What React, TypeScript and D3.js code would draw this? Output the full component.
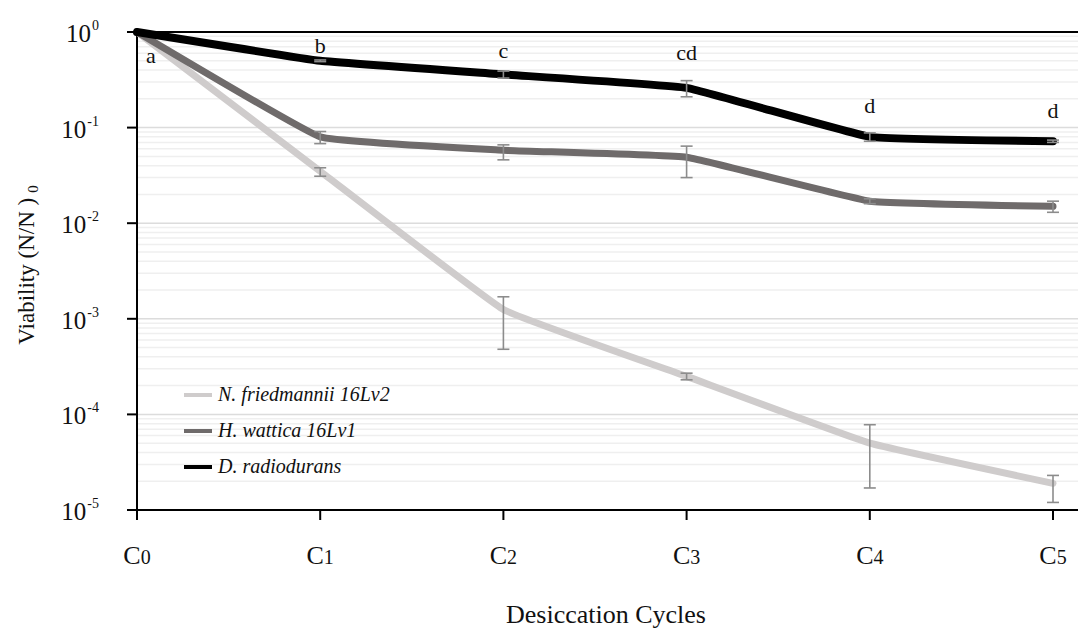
import React from "react";
import * as d3 from "d3";

const categories = ["C0", "C1", "C2", "C3", "C4", "C5"];
const seriesNames = ["N. friedmannii 16Lv2", "H. wattica 16Lv1", "D. radiodurans"];
const friedmannii = [1, 0.035, 0.00125, 0.00025, 0.00005, 0.000019];
const friedmanniiLo = [1, 0.031, 0.00048, 0.00023, 0.000017, 0.000012];
const friedmanniiHi = [1, 0.038, 0.0017, 0.00027, 0.000078, 0.000023];
const wattica = [1, 0.08, 0.058, 0.049, 0.017, 0.015];
const watticaLo = [1, 0.068, 0.046, 0.03, 0.016, 0.013];
const watticaHi = [1, 0.091, 0.066, 0.064, 0.018, 0.017];
const radiodurans = [1, 0.5, 0.36, 0.26, 0.08, 0.072];
const radioduransLo = [1, 0.49, 0.33, 0.21, 0.072, 0.07];
const radioduransHi = [1, 0.51, 0.39, 0.31, 0.088, 0.074];
const letters = ["a", "b", "c", "cd", "d", "d"];
const letterValues = [0.47, 0.6, 0.535, 0.51, 0.142, 0.126];
const yExponents = [0, -1, -2, -3, -4, -5];

const colors = ["#cfcccc", "#6f6b6b", "#000000"];

export default function App() {
  const W = 1078, H = 628;
  const left = 137, right = 1078, top = 32, bottom = 510;
  const x = d3.scalePoint<string>().domain(categories).range([left, 1053]);
  const y = d3.scaleLog().domain([1e-5, 1]).range([bottom, top]);

  const series = [
    { name: seriesNames[0], v: friedmannii, lo: friedmanniiLo, hi: friedmanniiHi, c: colors[0], w: 7 },
    { name: seriesNames[1], v: wattica, lo: watticaLo, hi: watticaHi, c: colors[1], w: 7 },
    { name: seriesNames[2], v: radiodurans, lo: radioduransLo, hi: radioduransHi, c: colors[2], w: 8 },
  ];

  const line = d3
    .line<number>()
    .x((_, i) => x(categories[i]) as number)
    .y((d) => y(d))
    .curve(d3.curveCardinal.tension(0.75));

  const minorTicks: number[] = [];
  for (let e = -5; e < 0; e++) {
    for (let m = 2; m <= 9; m++) minorTicks.push(m * Math.pow(10, e));
  }
  const majorTicks = yExponents.map((e) => Math.pow(10, e));

  return (
    <svg width={W} height={H} style={{ position: "absolute", left: 0, top: 0, background: "#fff" }}
      fontFamily="'Liberation Serif', 'Times New Roman', serif">
      {/* grid */}
      {minorTicks.map((t, i) => (
        <line key={"m" + i} x1={left} x2={right} y1={y(t)} y2={y(t)} stroke="#efefef" strokeWidth={1.5} />
      ))}
      {majorTicks.map((t, i) => (
        <line key={"M" + i} x1={left} x2={right} y1={y(t)} y2={y(t)} stroke="#dcdcdc" strokeWidth={1.5} />
      ))}
      {/* top border */}
      <line x1={127} x2={right} y1={top} y2={top} stroke="#000" strokeWidth={2} />
      {/* y axis */}
      <line x1={left} x2={left} y1={top} y2={bottom + 10} stroke="#000" strokeWidth={2} />
      {majorTicks.map((t, i) => (
        <line key={"yt" + i} x1={127} x2={left} y1={y(t)} y2={y(t)} stroke="#000" strokeWidth={2} />
      ))}
      {yExponents.map((e, i) => (
        <text key={"yl" + i} x={99} y={y(Math.pow(10, e)) + 10} textAnchor="end" fontSize={25} fill="#111">
          10
          <tspan fontSize={14} dy={-12} dx={1}>{e}</tspan>
        </text>
      ))}
      {/* x axis */}
      <line x1={127} x2={right} y1={bottom} y2={bottom} stroke="#000" strokeWidth={2} />
      {categories.map((c, i) => (
        <g key={"xt" + i}>
          <line x1={x(c)} x2={x(c)} y1={bottom} y2={bottom + 10} stroke="#000" strokeWidth={2} />
          <text x={x(c)} y={564} textAnchor="middle" fontSize={26} fill="#111">
            {c[0]}
            <tspan fontSize={20}>{c.slice(1)}</tspan>
          </text>
        </g>
      ))}
      <text x={606} y={623} textAnchor="middle" fontSize={26} fill="#111">Desiccation Cycles</text>
      <text transform={`translate(34,265) rotate(-90)`} textAnchor="middle" fontSize={23} fill="#111">
        Viability (N/N )
        <tspan fontSize={15} dx={5} dy={4}>0</tspan>
      </text>
      {/* lines */}
      {series.map((s, si) => (
        <path key={"l" + si} d={line(s.v) || ""} fill="none" stroke={s.c} strokeWidth={s.w}
          strokeLinecap="round" strokeLinejoin="round" />
      ))}
      {/* error bars */}
      {series.map((s, si) =>
        s.v.map((v, i) => {
          if (i === 0) return null;
          const cx = x(categories[i]) as number;
          const y1 = y(s.lo[i]), y2 = y(s.hi[i]);
          return (
            <g key={"e" + si + "-" + i} stroke="#8c8c8c" strokeWidth={1.6}>
              <line x1={cx} x2={cx} y1={y1} y2={y2} />
              <line x1={cx - 6} x2={cx + 6} y1={y1} y2={y1} />
              <line x1={cx - 6} x2={cx + 6} y1={y2} y2={y2} />
            </g>
          );
        })
      )}
      {/* letters */}
      {letters.map((l, i) => (
        <text key={"lt" + i} x={i === 0 ? 151 : (x(categories[i]) as number)} y={y(letterValues[i])}
          textAnchor="middle" fontSize={22} fill="#111">{l}</text>
      ))}
      {/* legend */}
      {series.map((s, si) => (
        <g key={"lg" + si} transform={`translate(184,${395 + si * 36})`}>
          <line x1={0} x2={28} y1={0} y2={0} stroke={s.c} strokeWidth={4} />
          <text x={34} y={6} fontSize={20} fontStyle="italic" fill="#111">{s.name}</text>
        </g>
      ))}
    </svg>
  );
}
